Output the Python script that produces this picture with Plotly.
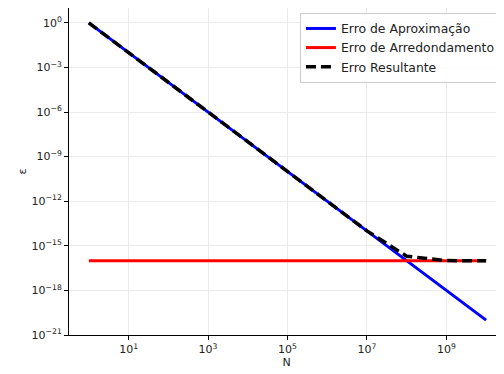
import plotly.graph_objects as go

N = [1e0, 1e1, 1e2, 1e3, 1e4, 1e5, 1e6, 1e7, 1e8, 1e9, 1e10]
erro_aprox = [1e0, 1e-2, 1e-4, 1e-6, 1e-8, 1e-10, 1e-12, 1e-14, 1e-16, 1e-18, 1e-20]
erro_arred = [1e-16, 1e-16, 1e-16, 1e-16, 1e-16, 1e-16, 1e-16, 1e-16, 1e-16, 1e-16, 1e-16]
erro_result = [1.0, 1e-2, 1e-4, 1e-6, 1e-8, 1.000001e-10, 1.0001e-12, 1.01e-14, 2e-16, 1.01e-16, 1.0001e-16]

x_ticks = [1e1, 1e3, 1e5, 1e7, 1e9]
x_ticktext = ["10<sup>1</sup>", "10<sup>3</sup>", "10<sup>5</sup>", "10<sup>7</sup>", "10<sup>9</sup>"]
y_ticks = [1e0, 1e-3, 1e-6, 1e-9, 1e-12, 1e-15, 1e-18, 1e-21]
y_ticktext = ["10<sup>0</sup>", "10<sup>−3</sup>", "10<sup>−6</sup>", "10<sup>−9</sup>",
              "10<sup>−12</sup>", "10<sup>−15</sup>", "10<sup>−18</sup>", "10<sup>−21</sup>"]

fig = go.Figure()
fig.add_trace(go.Scatter(x=N, y=erro_aprox, mode="lines", name="Erro de Aproximação",
                         line=dict(color="#0000ff", width=3)))
fig.add_trace(go.Scatter(x=N, y=erro_arred, mode="lines", name="Erro de Arredondamento",
                         line=dict(color="#ff0000", width=3)))
fig.add_trace(go.Scatter(x=N, y=erro_result, mode="lines", name="Erro Resultante",
                         line=dict(color="black", width=3.5, dash="10px,5px")))

fig.update_layout(
    width=496, height=366,
    margin=dict(l=61, r=0, t=0, b=39),
    plot_bgcolor="white", paper_bgcolor="white",
    font=dict(family="DejaVu Sans", size=11, color="#222222"),
    showlegend=True,
    legend=dict(x=0.993, y=0.985, xanchor="right", yanchor="top",
                bgcolor="rgba(255,255,255,0.85)", bordercolor="#cccccc", borderwidth=1,
                font=dict(size=12.4), tracegroupgap=0, itemwidth=30),
)
fig.update_xaxes(type="log", range=[-0.5, 10.45], tickvals=x_ticks, ticktext=x_ticktext,
                 showgrid=True, gridcolor="#ebebeb", gridwidth=1,
                 showline=True, linecolor="black", linewidth=1, mirror=True,
                 ticks="outside", ticklen=4, tickcolor="black", zeroline=False,
                 title=dict(text="N", standoff=0, font=dict(size=11)))
fig.update_yaxes(type="log", range=[-21, 1], tickvals=y_ticks, ticktext=y_ticktext,
                 showgrid=True, gridcolor="#ebebeb", gridwidth=1,
                 showline=True, linecolor="black", linewidth=1, mirror=True,
                 ticks="outside", ticklen=4, tickcolor="black", zeroline=False,
                 title=dict(text="ε", standoff=2, font=dict(size=11)))

fig.write_html("out.html")
